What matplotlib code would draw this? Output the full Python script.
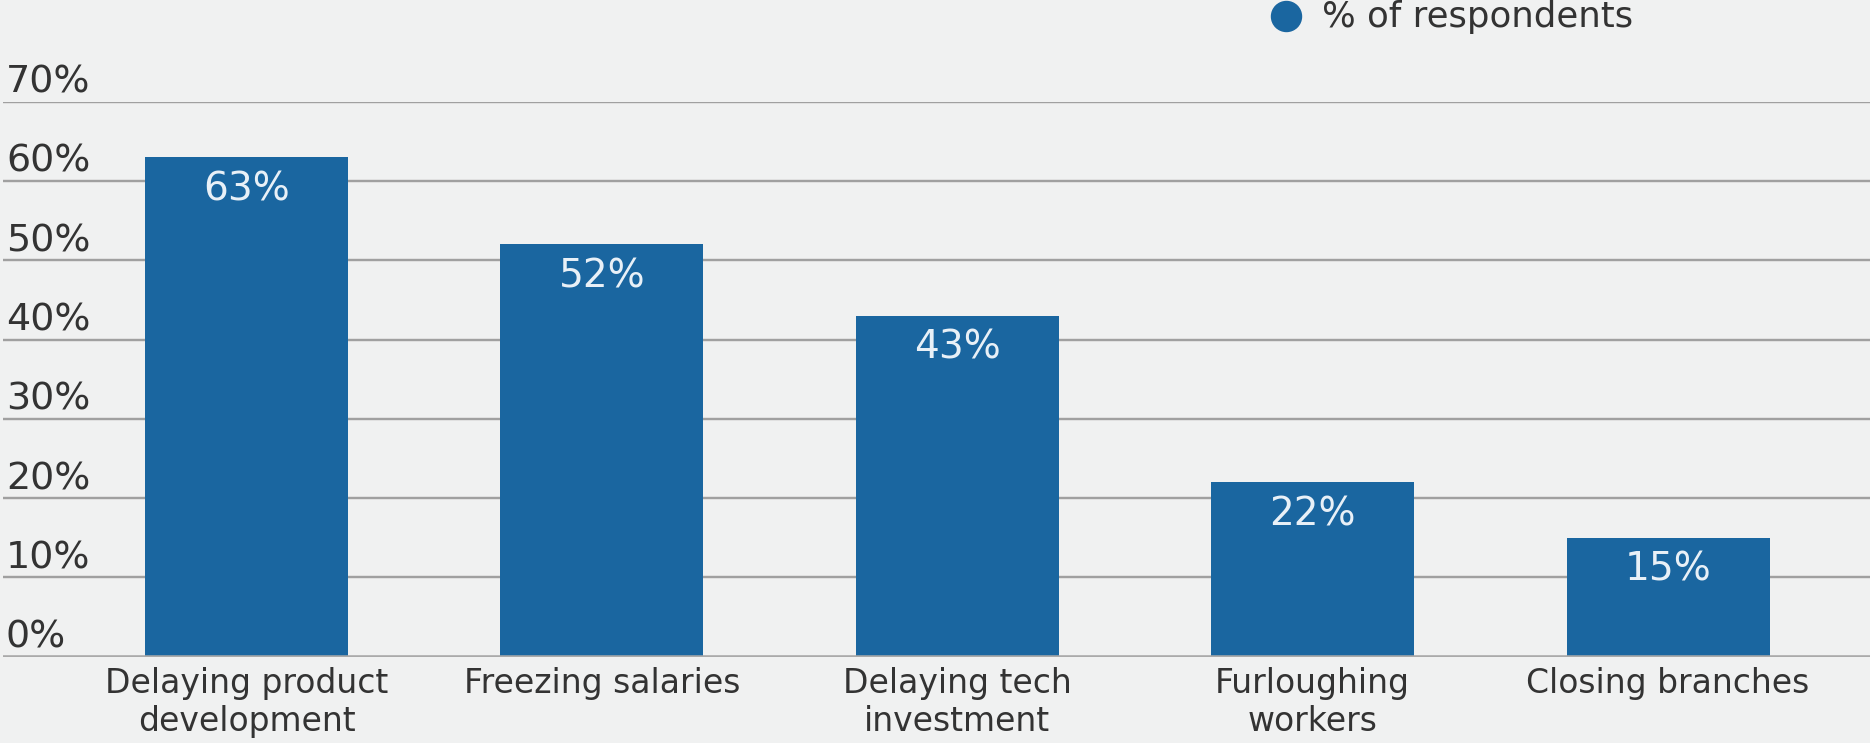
import matplotlib
matplotlib.use("Agg")
import matplotlib.pyplot as plt
import matplotlib.transforms as mtransforms
from matplotlib.lines import Line2D

# ---- data ----
categories = ["Delaying product\ndevelopment", "Freezing salaries",
              "Delaying tech\ninvestment", "Furloughing\nworkers", "Closing branches"]
values = [63, 52, 43, 22, 15]
y_ticks = [0, 10, 20, 30, 40, 50, 60, 70]
y_tick_labels = ["0%", "10%", "20%", "30%", "40%", "50%", "60%", "70%"]
legend_label = "% of respondents"

# ---- style ----
W, H, DPI = 1870, 743, 100
BG = "#f0f1f1"
BAR = "#1a66a0"
GRID = "#a0a0a0"
TEXT = "#333333"
VALTXT = "#e8f0f7"
plt.rcParams['font.family'] = ['DejaVu Sans']

def px2pt(p):
    return p * 72.0 / DPI

fig = plt.figure(figsize=(W / DPI, H / DPI), dpi=DPI, facecolor=BG)
ax_left, ax_right = 3 / W, 1.0
ax_bottom = (H - 656.7) / H
ax_top = (H - 101.7) / H
ax = fig.add_axes([ax_left, ax_bottom, ax_right - ax_left, ax_top - ax_bottom])
ax.set_facecolor(BG)

x = list(range(len(categories)))
ax.bar(x, values, width=0.571, color=BAR, zorder=3)
ax.set_xlim(-0.685, 4.568)
ax.set_ylim(0, 70)

# grid
ax.set_yticks(y_ticks)
ax.yaxis.grid(True, color=GRID, linewidth=px2pt(2.4), zorder=1)
ax.tick_params(axis='y', length=0, labelleft=False)
for s in ax.spines.values():
    s.set_visible(False)
ax.axhline(0, color="#aaaaaa", linewidth=px2pt(3.5), zorder=4)

# x labels
ax.set_xticks(x)
ax.set_xticklabels(categories, fontsize=px2pt(33), color=TEXT, linespacing=1.2)
ax.tick_params(axis='x', length=0, pad=px2pt(10))

# y labels above gridlines
ytrans = mtransforms.blended_transform_factory(fig.transFigure, ax.transData)
ytrans = mtransforms.offset_copy(ytrans, fig=fig, x=0, y=9, units='dots')
for v, lab in zip(y_ticks, y_tick_labels):
    ax.text(6 / W, v, lab, transform=ytrans, ha='left', va='baseline',
            fontsize=px2pt(38), color=TEXT, clip_on=False)

# value labels inside bars
vtrans = mtransforms.offset_copy(ax.transData, fig=fig, x=0, y=-13, units='dots')
for xi, v in zip(x, values):
    ax.text(xi, v, f"{v}%", transform=vtrans, ha='center', va='top',
            fontsize=px2pt(39), color=VALTXT, zorder=5)

# legend
fig.add_artist(Line2D([1286 / W], [(H - 16) / H], marker='o', markersize=px2pt(30),
                      color=BAR, linestyle='none', transform=fig.transFigure))
fig.text(1322 / W, (H - 16.5) / H, legend_label, ha='left', va='center',
         fontsize=px2pt(35.5), color=TEXT)

fig.savefig("out.png", dpi=DPI, facecolor=BG)
